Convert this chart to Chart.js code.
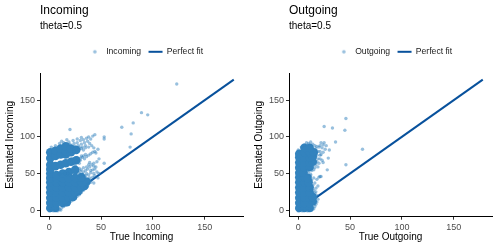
<!DOCTYPE html>
<html>
<head>
<meta charset="utf-8">
<script src="https://cdn.jsdelivr.net/npm/chart.js@4.4.1/dist/chart.umd.min.js"></script>
<style>
    html, body { margin: 0; padding: 0; background: #fff; }
    #wrap { position: relative; width: 498px; height: 249px; }
    .panel { position: absolute; top: 0; width: 249px; height: 249px; }
</style>
</head>
<body>
<div id="wrap">
    <div class="panel" style="left:0"><canvas id="incoming-chart" width="249" height="249"></canvas></div>
    <div class="panel" style="left:249px"><canvas id="outgoing-chart" width="249" height="249"></canvas></div>
</div>
<script>
(function() {
    'use strict';

    // --- data ---
    var tickValues = [0, 50, 100, 150];
    var axisRange = [-8.9, 186.9];
    var fitRange = [0, 178];
    var subtitleText = 'theta=0.5';

    // dense cores of the point clouds
    var incomingCore = [
        [1,3],[6,3],
        [1,10],[7,10],[13,10],[17,11],
        [1,17],[7,17],[13,17],[19,17],[23,18],
        [1,24],[7,24],[13,24],[19,24],[25,24],[28,26],
        [1,31],[7,31],[13,31],[19,31],[25,31],[31,31],[34,33],
        [1,38],[7,38],[13,38],[19,38],[25,38],[31,38],[36,39],
        [1,44],[7,44],[13,44],[19,44],[25,44],[31,45],
        [1,50],[7,48],[13,50],[19,52],[25,55],
        [1,56],[1,62],[6,60],[11,62],[16,64],[21,66],[26,68],
        [1,71],[1,79],[6,74],[6,81],[11,76],[11,84],[16,76],[16,80],[16,87],
        [21,79],[21,84],[26,82]
    ];
    // single points around the cores
    var incomingPoints = [
        [10,1],[12,3],[14,5],[16,7],[19,9],[21,12],[23,14],[25,16],[27,19],[29,21],
        [31,24],[33,27],[35,30],[37,33],[38,36],[40,38],[41,41],[39,44],[42,45],[44,47],
        [11,0],[8,-1],[4,-1],[0,-1],
        [30,47],[34,46],[36,50],[33,52],[28,51],[30,53],[32,49],[18,50],[15,50],[10,49],
        [35,47],[38,48],[40,51],[43,50],[46,52],[48,50],[31,55],[35,54],[29,57],[33,58],
        [37,56],[39,59],[41,62],[43,60],[44,56],[40,54],[38,62],[42,55],[45,59],[36,59],
        [43,64],[39,65],
        [24,64],[26,67],[28,70],[30,68],[32,72],[34,70],[36,73],[38,75],[35,76],[40,77],
        [42,79],[44,80],[22,70],[27,72],[31,74],[25,61],[29,64],[30,71],[33,74],
        [20,90],[22,86],[24,91],[25,87],[27,92],[28,88],[30,95],[31,90],[33,96],[34,92],
        [36,98],[37,94],[38,100],[40,97],[42,101],[44,103],[39,91],[35,88],[32,86],[29,83],
        [26,82],[24,80],[33,82],[38,86],[41,88],[43,85],[23,95],[19,93],[14,92],[10,91],
        [6,88],[2,86],[17,96],[12,94],[27,97],[31,99],[20,110],[29,86],[31,84],[35,85],
        [47,83],[45,78],[46,66],[48,70],[53,100],[53,97],[53,64],[47,44],[43,37],
        [70,113],[79,104],[78,86],[81,119],[89,133],[95,130],[123,172]
    ];

    var outgoingCore = [
        [1,3],[6,3],[11,3],
        [1,10],[6,10],[11,10],[14,12],
        [1,17],[6,17],[11,17],[14,18],
        [1,24],[6,24],[11,24],
        [1,31],[6,31],[11,31],
        [1,38],[6,38],[10,38],
        [1,45],[6,45],[9,44],
        [1,51],[5,51],
        [1,58],[6,58],[11,59],
        [1,65],[6,65],[11,65],[14,66],
        [1,72],[6,72],[11,72],[14,73],
        [1,77],[6,79],[11,79],[15,79],
        [6,85],[11,85]
    ];
    var outgoingPoints = [
        [13,0],[15,2],[16,5],[17,8],[18,11],[19,15],[18,20],[16,23],[15,27],[17,30],
        [14,34],[16,37],[13,41],[15,44],[12,47],[18,42],[20,45],[22,46],[19,33],[9,-1],
        [4,-1],[0,-1],[13,28],[17,25],
        [8,50],[10,52],[12,49],[9,54],[13,54],
        [16,58],[17,62],[18,66],[19,70],[18,75],[19,80],[17,84],[16,88],[18,87],[20,86],
        [14,90],[10,91],[6,89],[3,86],[0,82],[21,80],[22,76],[21,70],[20,64],[19,59],
        [15,55],[23,85],[24,89],[25,92],[22,92],[12,93],[8,92],[26,83],[24,79],[23,68],
        [21,88],[27,88],
        [21,75],[24,65],[28,55],[29,71],[30,82],[36,93],[25,114],[33,112],[45,109],
        [46,125],[62,83],[46,62],[21,46]
    ];

    // --- styling ---
    var FONT = '"Liberation Sans", Arial, sans-serif';
    var POINT_LIGHT = 'rgba(49, 130, 189, 0.5)';
    var POINT_DENSE = 'rgb(51, 131, 190)';
    var LINE_COLOR = '#08519c';

    function toXY(list) {
        return list.map(function(p) { return { x: p[0], y: p[1] }; });
    }

    // small dot used as the legend key of the point series
    var dotKey = document.createElement('canvas');
    dotKey.width = 14;
    dotKey.height = 6;
    (function() {
        var c = dotKey.getContext('2d');
        c.fillStyle = POINT_LIGHT;
        c.beginPath();
        c.arc(7, 3, 1.8, 0, Math.PI * 2);
        c.fill();
    })();

    // legend sits a bit right of and above its layout box in the reference
    var legendNudge = {
        id: 'legendNudge',
        afterLayout: function(chart) {
            var lg = chart.legend;
            if (!lg) return;
            lg.left += 4;
            lg.right += 4;
            lg.top -= 7;
            lg.bottom -= 7;
        }
    };

    function axis(titleText, isX) {
        return {
            type: 'linear',
            min: axisRange[0],
            max: axisRange[1],
            afterBuildTicks: function(scale) {
                scale.ticks = tickValues.map(function(v) { return { value: v }; });
            },
            afterFit: function(scale) {
                if (isX) scale.height = 32.3;
                else scale.width = 40;
            },
            border: { display: true, color: '#000', width: 1 },
            grid: { drawOnChartArea: false, drawTicks: true, tickLength: 3, tickColor: '#333', lineWidth: 1 },
            ticks: {
                color: '#4d4d4d',
                padding: 2,
                font: { family: FONT, size: 9 },
                maxRotation: 0,
                callback: function(v) { return v; }
            },
            title: {
                display: true,
                text: titleText,
                color: '#000',
                font: { family: FONT, size: 10 },
                padding: isX ? { top: 0, bottom: 5.7 } : { top: 4, bottom: 0 }
            }
        };
    }

    function makePanel(canvasId, name, core, points) {
        var ctx = document.getElementById(canvasId);
        return new Chart(ctx.getContext('2d'), {
            type: 'scatter',
            data: {
                datasets: [
                    {
                        label: name,
                        data: toXY(points),
                        backgroundColor: POINT_LIGHT,
                        borderWidth: 0,
                        pointRadius: 1.7,
                        order: 1
                    },
                    {
                        label: name + ' core',
                        data: toXY(core),
                        backgroundColor: POINT_DENSE,
                        borderWidth: 0,
                        pointRadius: 4.3,
                        order: 2
                    },
                    {
                        type: 'line',
                        label: 'Perfect fit',
                        data: [{ x: fitRange[0], y: fitRange[0] }, { x: fitRange[1], y: fitRange[1] }],
                        borderColor: LINE_COLOR,
                        backgroundColor: LINE_COLOR,
                        borderWidth: 2,
                        pointRadius: 0,
                        fill: false,
                        order: 3
                    }
                ]
            },
            options: {
                responsive: false,
                animation: false,
                events: [],
                layout: { padding: { top: 0, right: 6, bottom: 0, left: 0 } },
                plugins: {
                    title: {
                        display: true,
                        text: name,
                        align: 'start',
                        fullSize: false,
                        color: '#000',
                        font: { family: FONT, size: 12, weight: 'normal' },
                        padding: { top: 3, bottom: 0 }
                    },
                    subtitle: {
                        display: true,
                        text: subtitleText,
                        align: 'start',
                        fullSize: false,
                        color: '#000',
                        font: { family: FONT, size: 10 },
                        padding: { top: 2.6, bottom: 15 }
                    },
                    legend: {
                        display: true,
                        position: 'top',
                        fullSize: false,
                        labels: {
                            usePointStyle: true,
                            pointStyleWidth: 14,
                            boxHeight: 4,
                            padding: 7.5,
                            color: '#1a1a1a',
                            font: { family: FONT, size: 8.6 },
                            generateLabels: function(chart) {
                                var items = Chart.defaults.plugins.legend.labels.generateLabels(chart);
                                items = items.filter(function(it) { return it.datasetIndex !== 1; });
                                items.sort(function(a, b) { return a.datasetIndex - b.datasetIndex; });
                                items.forEach(function(it) {
                                    it.pointStyle = it.datasetIndex === 0 ? dotKey : 'line';
                                });
                                return items;
                            }
                        }
                    },
                    tooltip: { enabled: false }
                },
                scales: {
                    x: axis('True ' + name, true),
                    y: axis('Estimated ' + name, false)
                }
            },
            plugins: [legendNudge]
        });
    }

    makePanel('incoming-chart', 'Incoming', incomingCore, incomingPoints);
    makePanel('outgoing-chart', 'Outgoing', outgoingCore, outgoingPoints);
})();
</script>
</body>
</html>
